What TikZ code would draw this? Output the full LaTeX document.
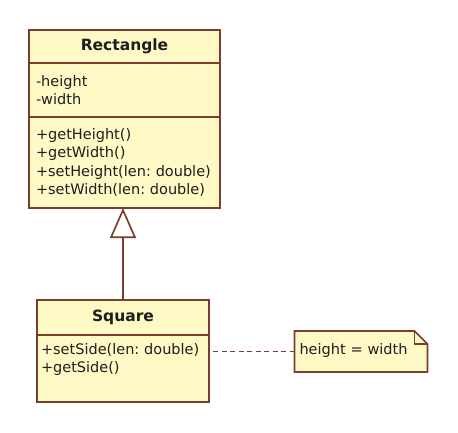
\documentclass[tikz,border=0pt]{standalone}
\usepackage{fontspec}
\setmainfont{DejaVu Sans}
\frenchspacing
\usetikzlibrary{arrows.meta,positioning,backgrounds}
\definecolor{umlfill}{RGB}{255,249,198}
\definecolor{umlline}{RGB}{122,62,46}
\definecolor{umltext}{RGB}{30,30,30}

\begin{document}
\begin{tikzpicture}[x=1pt, y=-1pt,
  part/.style={draw=umlline, fill=umlfill, line width=1.7pt, inner sep=0pt, outer sep=0pt,
    text=umltext, font=\fontsize{14.5}{18.2}\selectfont},
  head/.style={part, font=\fontsize{15.5}{18.2}\selectfont\bfseries},
  body/.style={part, align=left, inner xsep=7pt},
  gen/.style={-{Triangle[open, length=30pt, width=26pt]}, draw=umlline, line width=1.7pt},
  anchorline/.style={draw=umlline, line width=1.9pt, dash pattern=on 5pt off 3.5pt}
]
\useasboundingbox (0,0) rectangle (458,432);
% Rectangle class
\node[head, minimum width=191pt, minimum height=33pt] (recthead) at (124.5,46.5) {Rectangle};
\node[body, text width=177pt, minimum height=54pt, below=0pt of recthead] (rectattr) {-height\\-width};
\node[body, text width=177pt, minimum height=91pt, below=0pt of rectattr] (rectmeth)
  {+getHeight()\\+getWidth()\\+setHeight(len: double)\\+setWidth(len: double)};
% Square class
\node[head, minimum width=172pt, minimum height=35pt] (sqhead) at (123,317.5) {Square};
\node[body, text width=164pt, inner xsep=4pt, minimum height=66pt, inner ysep=8pt, text depth=40pt,
  below=0pt of sqhead] (sqmeth)
  {+setSide(len: double)\\+getSide()};
% note
\node[part, draw=none, fill=none, minimum width=133pt, minimum height=41pt, text width=123pt,
  align=left, inner xsep=5pt, text depth=6pt] (note) at (361,351.5) {height = width};
\begin{scope}[on background layer]
\path[draw=umlline, fill=umlfill, line width=1.7pt, line join=miter]
  (note.north west) -- ([xshift=-13pt]note.north east) -- ([yshift=-13pt]note.north east)
  -- (note.south east) -- (note.south west) -- cycle;
\draw[umlline, line width=1.7pt] ([xshift=-13pt]note.north east) |- ([yshift=-13pt]note.north east);
\end{scope}

\draw[gen] (sqhead.north) -- (sqhead.north |- rectmeth.south);
\draw[anchorline] (note.west) -- (note.west -| sqmeth.east);
\end{tikzpicture}
\end{document}
